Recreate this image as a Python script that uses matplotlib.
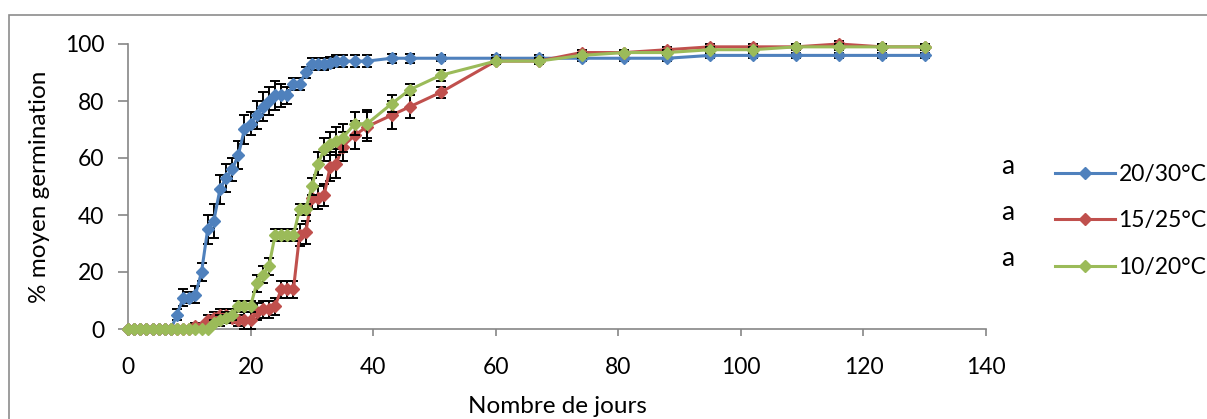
import matplotlib.pyplot as plt
from matplotlib.patches import Rectangle

plt.rcParams["font.family"] = ["Lato", "DejaVu Sans"]

days = [0, 1, 2, 3, 4, 5, 6, 7, 8, 9, 10, 11, 12, 13, 14, 15, 16, 17, 18, 19,
        20, 21, 22, 23, 24, 25, 26, 27, 28, 29, 30, 31, 32, 33, 34, 35,
        37, 39, 43, 46, 51, 60, 67, 74, 81, 88, 95, 102, 109, 116, 123, 130]

germ_20_30 = [0, 0, 0, 0, 0, 0, 0, 0, 5, 11, 11, 12, 20, 35, 38, 49, 53, 56, 61, 70,
              72, 75, 78, 80, 82, 82, 82, 86, 86, 90, 93, 93, 93, 93.5, 94, 94,
              94, 94, 95, 95, 95, 95, 95, 95, 95, 95, 96, 96, 96, 96, 96, 96]
err_20_30 = [0, 0, 0, 0, 0, 0, 0, 0, 2, 3, 2, 3, 3, 5, 6, 5, 5, 4, 5, 5,
             4, 5, 5, 5, 5, 4, 3, 2, 2, 2, 2, 2, 2, 2, 2, 2,
             2, 2, 1.5, 1.5, 1, 1, 1, 1, 1, 1, 1, 1, 1, 1, 1, 1]

germ_15_25 = [0, 0, 0, 0, 0, 0, 0, 0, 0, 0, 0, 1, 1, 3, 4, 5, 5, 4, 3, 3,
              3, 6, 7, 7, 8, 14, 14, 14, 33, 34, 46, 46, 47, 57, 58, 64,
              68, 71, 75, 78, 83, 94, 94, 97, 97, 98, 99, 99, 99, 100, 99, 99]
err_15_25 = [0, 0, 0, 0, 0, 0, 0, 0, 0, 0, 0, 1, 1, 2, 2, 2, 2, 2, 2, 3,
             3, 3, 3, 3, 3, 3, 3, 3, 4, 4, 4, 4, 4, 5, 5, 5,
             5, 5, 5, 4, 2, 1, 1, 1, 1, 1, 1, 1, 1, 1, 1, 1]

germ_10_20 = [0, 0, 0, 0, 0, 0, 0, 0, 0, 0, 0, 0, 0, 0, 2, 3, 4, 5, 8, 8,
              8, 16, 19, 22, 33, 33, 33, 33, 42, 42, 50, 58, 63, 65, 66, 67,
              72, 72, 79, 84, 89, 94, 94, 96, 97, 97, 98, 98, 99, 99, 99, 99]
err_10_20 = [0, 0, 0, 0, 0, 0, 0, 0, 0, 0, 0, 0, 0, 0, 1, 2, 2, 2, 2, 2,
             2, 3, 3, 3, 2, 2, 2, 2, 2, 2, 3, 4, 4, 4, 5, 5,
             4, 5, 3, 2, 2, 1, 1, 1, 1, 1, 1, 1, 1, 1, 1, 1]

labels = ["20/30°C", "15/25°C", "10/20°C"]
letters = ["a", "a", "a"]
colors = ["#4F81BD", "#C0504D", "#9BBB59"]

fig = plt.figure(figsize=(12.07, 4.19), dpi=100)
ax = fig.add_axes([128 / 1207, 1 - 329 / 419, (986 - 128) / 1207, (329 - 44) / 419])

series = [(germ_20_30, err_20_30), (germ_15_25, err_15_25), (germ_10_20, err_10_20)]
for i, ((y, e), lab, col) in enumerate(zip(series, labels, colors)):
    ax.errorbar(days, y, yerr=e, fmt="none", ecolor="black", elinewidth=1.4,
                capsize=3.6, capthick=1.4, zorder=2 + 2 * i, clip_on=False)
    ax.plot(days, y, "-D", color=col, lw=2.2, markersize=6.3, label=lab,
            zorder=3 + 2 * i, clip_on=False)

ax.set_xlim(0, 140)
ax.set_ylim(0, 100)
ax.set_xticks(range(0, 141, 20))
ax.set_yticks(range(0, 101, 20))
for s in ["top", "right"]:
    ax.spines[s].set_visible(False)
for s in ["left", "bottom"]:
    ax.spines[s].set_color("#868686")
    ax.spines[s].set_linewidth(1.2)
ax.tick_params(axis="both", colors="#868686", labelcolor="black", labelsize=16.5,
               width=1.2)
ax.tick_params(axis="x", length=5, pad=15)
ax.tick_params(axis="y", length=7, pad=10)
ax.set_xlabel("Nombre de jours", fontsize=17.5, labelpad=13)
ax.set_ylabel("% moyen germination", fontsize=17.5, labelpad=11)

leg = ax.legend(loc="center left", bbox_to_anchor=(1044 / 1207, 1 - 221 / 419),
                bbox_transform=fig.transFigure, frameon=False, fontsize=16.5,
                handlelength=2.6, handletextpad=0.15, labelspacing=1.1,
                borderpad=0)
for i, letter in enumerate(letters):
    fig.text(1008 / 1207, 1 - (166 + 46 * i) / 419, letter, fontsize=19,
             ha="center", va="center")

fig.add_artist(Rectangle((9 / 1207, -0.1), 1.1, 1 - 15 / 419 + 0.1,
                         transform=fig.transFigure, fill=False,
                         edgecolor="#8c8c8c", lw=1.2))

fig.savefig("out.png", dpi=100)
